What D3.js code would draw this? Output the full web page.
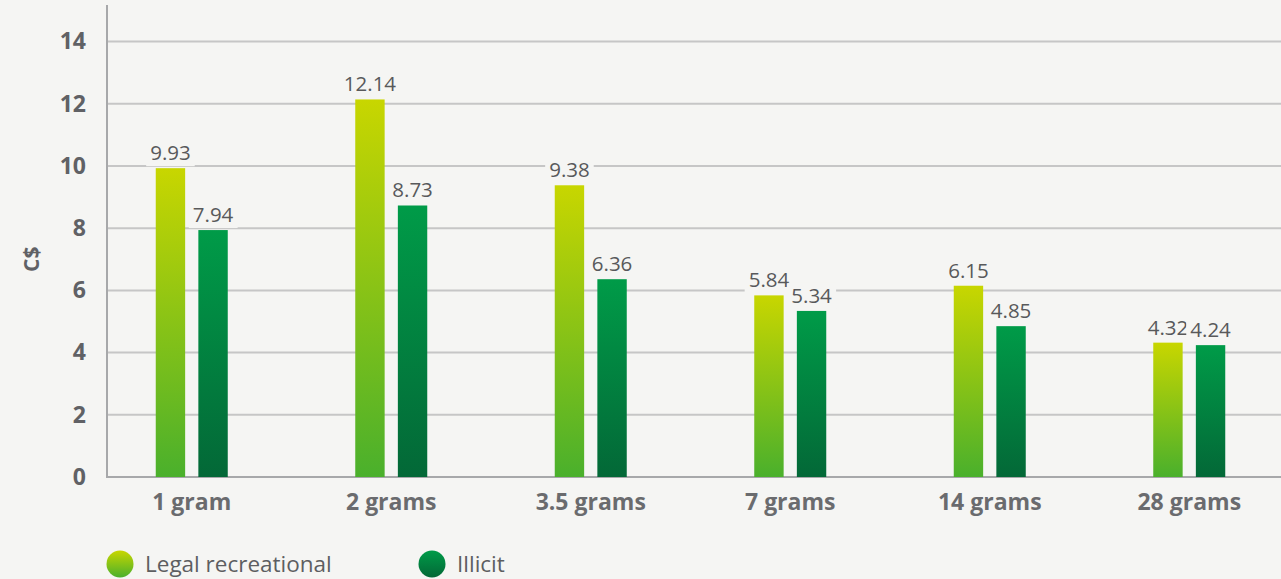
<!DOCTYPE html>
<html>
<head>
<meta charset="utf-8">
<script src="https://cdn.jsdelivr.net/npm/d3@7"></script>
<style>
  html, body { margin: 0; padding: 0; background: #f5f5f3; }
  svg { display: block; font-family: "Open Sans", sans-serif; }
</style>
</head>
<body>
<svg id="chart" width="1281" height="579"></svg>
<script>
// Price per gram of cannabis (C$) by purchase size
const categories = ["1 gram", "2 grams", "3.5 grams", "7 grams", "14 grams", "28 grams"];
const seriesNames = ["Legal recreational", "Illicit"];
const legalValues = [9.93, 12.14, 9.38, 5.84, 6.15, 4.32];
const illicitValues = [7.94, 8.73, 6.36, 5.34, 4.85, 4.24];
const yTicks = [0, 2, 4, 6, 8, 10, 12, 14];

const rows = categories.map((c, i) => ({
  category: c,
  values: [
    { series: seriesNames[0], value: legalValues[i] },
    { series: seriesNames[1], value: illicitValues[i] }
  ]
}));

const svg = d3.select("#chart");
const W = 1281, H = 579;
const axisX = 107, baseY = 477;

const y = d3.scaleLinear().domain([0, 14]).range([baseY, 41.6]);
const x0 = d3.scaleBand().domain(categories).range([92, 1289]).padding(0);
const x1 = d3.scaleBand().domain(seriesNames).range([-36, 36]).paddingInner(0.31);

// gradients
const defs = svg.append("defs");
const grads = [
  { id: "g-legal", top: "#c8d600", bottom: "#4ab02c" },
  { id: "g-illicit", top: "#009b48", bottom: "#036837" }
];
grads.forEach(g => {
  const lg = defs.append("linearGradient").attr("id", g.id)
    .attr("x1", 0).attr("y1", 0).attr("x2", 0).attr("y2", 1);
  lg.append("stop").attr("offset", "0%").attr("stop-color", g.top);
  lg.append("stop").attr("offset", "100%").attr("stop-color", g.bottom);
});
const fillFor = d3.scaleOrdinal().domain(seriesNames).range(["url(#g-legal)", "url(#g-illicit)"]);

// gridlines
svg.append("g")
  .selectAll("line")
  .data(yTicks.filter(t => t > 0))
  .join("line")
  .attr("x1", axisX).attr("x2", W)
  .attr("y1", d => y(d)).attr("y2", d => y(d))
  .attr("stroke", "#c6c6c6").attr("stroke-width", 2);

// y axis
const yAxis = svg.append("g")
  .attr("transform", `translate(${axisX},0)`)
  .call(d3.axisLeft(y).tickValues(yTicks).tickSize(0).tickPadding(21));
yAxis.select(".domain").remove();
yAxis.selectAll("text")
  .attr("fill", "#606165")
  .attr("font-size", 23)
  .attr("font-weight", 700)
  .attr("font-family", "'Open Sans', sans-serif");

// axis lines
svg.append("line")
  .attr("x1", axisX).attr("x2", axisX).attr("y1", 5).attr("y2", baseY + 1)
  .attr("stroke", "#a7a8aa").attr("stroke-width", 2);
svg.append("line")
  .attr("x1", axisX).attr("x2", W).attr("y1", baseY).attr("y2", baseY)
  .attr("stroke", "#a7a8aa").attr("stroke-width", 2);

// y title
svg.append("text")
  .attr("transform", `translate(39,${y(7)}) rotate(-90)`)
  .attr("text-anchor", "middle")
  .attr("fill", "#606165")
  .attr("font-size", 21)
  .attr("font-weight", 700)
  .text("C$");

// bars
const groups = svg.append("g")
  .selectAll("g")
  .data(rows)
  .join("g")
  .attr("transform", d => `translate(${x0(d.category) + x0.bandwidth() / 2},0)`);

groups.selectAll("rect")
  .data(d => d.values)
  .join("rect")
  .attr("x", d => x1(d.series))
  .attr("width", x1.bandwidth())
  .attr("y", d => y(d.value))
  .attr("height", d => baseY - y(d.value))
  .attr("fill", d => fillFor(d.series));

// value labels with background knock-out
const labels = groups.selectAll("g.lbl")
  .data(d => d.values)
  .join("g")
  .attr("class", "lbl")
  .attr("transform", d => `translate(${x1(d.series) + x1.bandwidth() / 2},${y(d.value) - 8})`);

labels.append("text")
  .attr("text-anchor", "middle")
  .attr("fill", "#58595b")
  .attr("font-size", 20.5)
  .text(d => d.value.toFixed(2));

labels.each(function () {
  const g = d3.select(this);
  const bb = g.select("text").node().getBBox();
  g.insert("rect", "text")
    .attr("x", bb.x - 4).attr("y", bb.y + 2)
    .attr("width", bb.width + 8).attr("height", bb.height - 2)
    .attr("fill", "#f5f5f3");
});

// category labels
svg.append("g")
  .selectAll("text")
  .data(categories)
  .join("text")
  .attr("x", d => x0(d) + x0.bandwidth() / 2)
  .attr("y", 510)
  .attr("text-anchor", "middle")
  .attr("fill", "#6a6b6e")
  .attr("font-size", 23)
  .attr("font-weight", 700)
  .text(d => d);

// legend
const legendX = d3.scaleOrdinal().domain(seriesNames).range([120, 432]);
const legend = svg.append("g")
  .selectAll("g")
  .data(seriesNames)
  .join("g")
  .attr("transform", d => `translate(${legendX(d)},564)`);
legend.append("circle")
  .attr("r", 13.5)
  .attr("fill", d => fillFor(d));
legend.append("text")
  .attr("x", 25)
  .attr("dy", "0.35em")
  .attr("fill", "#5d5e61")
  .attr("font-size", 22.5)
  .text(d => d);
</script>
</body>
</html>
